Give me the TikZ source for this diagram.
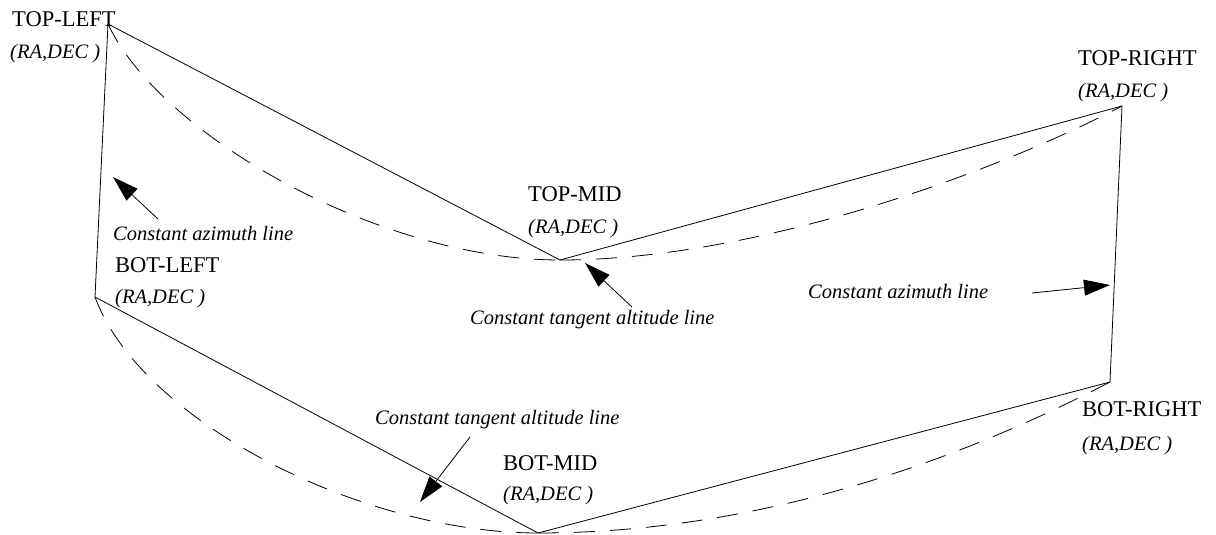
\documentclass[tikz,border=0pt]{standalone}
\usepackage{fontspec}
\setmainfont{Liberation Serif}
\usetikzlibrary{arrows.meta}
\begin{document}
\begin{tikzpicture}[x=1pt,y=-1pt,
  edge/.style={draw=black,line width=0.8pt},
  arc/.style={draw=black,line width=0.8pt,dash pattern=on 21pt off 15pt},
  pointer/.style={draw=black,line width=0.8pt,-{Triangle[length=26pt,width=16pt]}},
  corner/.style={anchor=base west,inner sep=0pt,font=\fontsize{22.5}{26}\selectfont},
  coord/.style={anchor=base west,inner sep=0pt,font=\fontsize{20.5}{24}\selectfont\itshape},
  note/.style={anchor=base west,inner sep=0pt,font=\fontsize{20.5}{24}\selectfont\itshape}]
\useasboundingbox (0,0) rectangle (1216,535);
% corner points
\coordinate (TL) at (108,24);
\coordinate (BL) at (95,297);
\coordinate (TM) at (560,260);
\coordinate (TR) at (1122,106);
\coordinate (BR) at (1110,382);
\coordinate (BM) at (538,533);
% straight edges
\draw[edge] (TL) -- (TM) -- (TR) -- (BR) -- (BM) -- (BL) -- cycle;
% dashed curves
\draw[arc] (TL) .. controls (160,135) and (380,260) .. (TM);
\draw[arc] (TM) .. controls (760,260) and (1000,170) .. (TR);
\draw[arc] (BL) .. controls (140,420) and (360,533) .. (BM);
\draw[arc] (BM) .. controls (760,533) and (960,460) .. (BR);
% labels
\node[corner] (lTL) at (12,27) {TOP-LEFT};
\node[coord] (cTL) at (10,59) {(RA,DEC )};
\node[corner] (lTM) at (528,201) {TOP-MID};
\node[coord] (cTM) at (528,233) {(RA,DEC )};
\node[corner] (lTR) at (1078,66) {TOP-RIGHT};
\node[coord] (cTR) at (1078,98) {(RA,DEC )};
\node[corner] (lBL) at (115,272) {BOT-LEFT};
\node[coord] (cBL) at (115,303) {(RA,DEC )};
\node[corner] (lBM) at (503,470) {BOT-MID};
\node[coord] (cBM) at (503,500) {(RA,DEC )};
\node[corner] (lBR) at (1082,416) {BOT-RIGHT};
\node[coord] (cBR) at (1082,450) {(RA,DEC )};
\node[note] (n1) at (113,240) {Constant azimuth line};
\node[note] (n2) at (470,324) {Constant tangent altitude line};
\node[note] (n3) at (808,298) {Constant azimuth line};
\node[note] (n4) at (375,424) {Constant tangent altitude line};
% arrows
\coordinate (a1s) at (158,219); \coordinate (a1e) at (113,177);
\coordinate (a2s) at (632,307); \coordinate (a2e) at (585,263);
\coordinate (a3s) at (1032,293); \coordinate (a3e) at (1110,285);
\coordinate (a4s) at (470,437); \coordinate (a4e) at (420,502);
\draw[pointer] (a1s) -- (a1e);
\draw[pointer] (a2s) -- (a2e);
\draw[pointer] (a3s) -- (a3e);
\draw[pointer] (a4s) -- (a4e);
\end{tikzpicture}
\end{document}
